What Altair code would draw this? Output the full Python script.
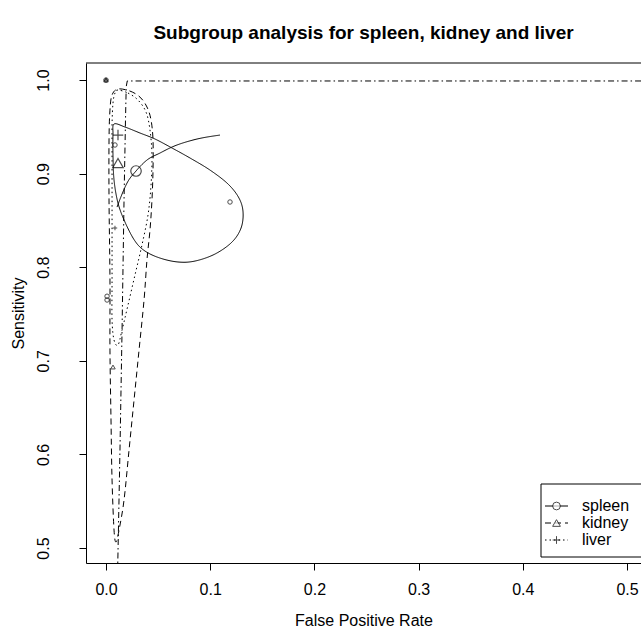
import altair as alt
import pandas as pd

FONT = "Liberation Sans"

# ---- data (FPR, sensitivity) ----
spleen_region_fpr = [0.0077, 0.0182, 0.0326, 0.0470, 0.0633, 0.0806, 0.0998, 0.1171, 0.1276, 0.1315,
                     0.1296, 0.1209, 0.1046, 0.0854, 0.0691, 0.0518, 0.0374, 0.0278, 0.0182, 0.0115,
                     0.0077, 0.0067, 0.0067]
spleen_region_sens = [0.9530, 0.9498, 0.9434, 0.9370, 0.9274, 0.9167, 0.9038, 0.8889, 0.8739, 0.8590,
                      0.8419, 0.8269, 0.8141, 0.8066, 0.8056, 0.8098, 0.8173, 0.8280, 0.8483, 0.8686,
                      0.8932, 0.9199, 0.9412]

kidney_region_fpr = [0.0115, 0.0230, 0.0326, 0.0393, 0.0432, 0.0451, 0.0451, 0.0441, 0.0422, 0.0393,
                     0.0365, 0.0317, 0.0269, 0.0221, 0.0173, 0.0125, 0.0096, 0.0077, 0.0058, 0.0048,
                     0.0038, 0.0038, 0.0029, 0.0029, 0.0038, 0.0058]
kidney_region_sens = [0.9904, 0.9882, 0.9818, 0.9712, 0.9573, 0.9359, 0.9038, 0.8718, 0.8397, 0.8077,
                      0.7650, 0.7115, 0.6581, 0.6047, 0.5513, 0.5192, 0.5064, 0.5192, 0.5726, 0.6368,
                      0.7115, 0.7863, 0.8718, 0.9359, 0.9679, 0.9840]

liver_region_fpr = [0.0115, 0.0211, 0.0307, 0.0384, 0.0422, 0.0441, 0.0432, 0.0403, 0.0345, 0.0278,
                    0.0211, 0.0154, 0.0115, 0.0077, 0.0058, 0.0058, 0.0058, 0.0058, 0.0058, 0.0058,
                    0.0067, 0.0086]
liver_region_sens = [0.9893, 0.9861, 0.9786, 0.9658, 0.9466, 0.9199, 0.8878, 0.8558, 0.8237, 0.7917,
                     0.7596, 0.7329, 0.7169, 0.7222, 0.7436, 0.7863, 0.8291, 0.8718, 0.9145, 0.9519,
                     0.9754, 0.9861]

spleen_sroc_fpr = [0.0106, 0.0154, 0.0202, 0.0288, 0.0393, 0.0518, 0.0633, 0.0835, 0.1094]
spleen_sroc_sens = [0.8643, 0.8782, 0.8900, 0.9028, 0.9145, 0.9220, 0.9284, 0.9359, 0.9412]

other_sroc_fpr = [0.0113, 0.0134, 0.0154, 0.0173, 0.0187, 0.0194, 0.0204, 0.5200]
other_sroc_sens = [0.4840, 0.6047, 0.7329, 0.8718, 0.9573, 0.9930, 0.9990, 0.9990]

groups = ["spleen", "kidney", "liver"]
summary_fpr = [0.0288, 0.0115, 0.0115]
summary_sens = [0.9028, 0.9113, 0.9412]

study_group = ["spleen", "spleen", "spleen", "spleen", "spleen", "kidney", "kidney", "liver", "liver"]
study_fpr = [0.0086, 0.1190, 0.0010, 0.0010, 0.0000, 0.0067, 0.0000, 0.0086, 0.0000]
study_sens = [0.9306, 0.8697, 0.7690, 0.7650, 1.0000, 0.6934, 1.0000, 0.8419, 1.0000]

# ---- tables ----
def path_rows(name, style, fprs, senss):
    return [dict(path=name, style=style, order=i, fpr=f, sens=s)
            for i, (f, s) in enumerate(zip(fprs, senss))]

regions_df = pd.DataFrame(
    path_rows("spleen", "solid", spleen_region_fpr, spleen_region_sens)
    + path_rows("kidney", "dashed", kidney_region_fpr, kidney_region_sens)
    + path_rows("liver", "dotted", liver_region_fpr, liver_region_sens)
)
sroc1_df = pd.DataFrame(path_rows("spleen_sroc", "solid", spleen_sroc_fpr, spleen_sroc_sens))
sroc2_df = pd.DataFrame(path_rows("other_sroc", "dotdash", other_sroc_fpr, other_sroc_sens))
summary_df = pd.DataFrame(dict(group=groups, fpr=summary_fpr, sens=summary_sens))
study_df = pd.DataFrame(dict(group=study_group, fpr=study_fpr, sens=study_sens))

PLUS = "M-1,0H1M0,-1V1"
dash_scale = alt.Scale(domain=["solid", "dashed", "dotted", "dotdash"],
                       range=[[1, 0], [6, 4], [1.5, 3], [1.5, 3, 6, 3]])
shape_scale = alt.Scale(domain=groups, range=["circle", "triangle-up", PLUS])

W, H = 555, 500
x_enc = alt.X("fpr:Q", scale=alt.Scale(domain=[-0.0192, 0.5134], nice=False, zero=False),
              axis=alt.Axis(values=[0, 0.1, 0.2, 0.3, 0.4, 0.5], format=".1f", title="False Positive Rate",
                            grid=False, tickSize=7, labelPadding=11, titleY=57, titleBaseline="middle",
                            titleX=W / 2))
y_enc = alt.Y("sens:Q", scale=alt.Scale(domain=[0.484, 1.0182], nice=False, zero=False),
              axis=alt.Axis(values=[0.5, 0.6, 0.7, 0.8, 0.9, 1.0], format=".1f", title="Sensitivity",
                            grid=False, tickSize=7, labelAngle=270, labelAlign="center",
                            labelBaseline="middle", labelPadding=36, titleAngle=270,
                            titleX=-68, titleY=H / 2, titleBaseline="middle"))

regions = alt.Chart(regions_df).mark_line(interpolate="cardinal-closed", color="black",
                                          strokeWidth=1, clip=True).encode(
    x=x_enc, y=y_enc, detail="path:N", order="order:Q",
    strokeDash=alt.StrokeDash("style:N", scale=dash_scale, legend=None))

sroc1 = alt.Chart(sroc1_df).mark_line(interpolate="monotone", color="black", strokeWidth=1,
                                      clip=True).encode(
    x="fpr:Q", y="sens:Q", order="order:Q",
    strokeDash=alt.StrokeDash("style:N", scale=dash_scale, legend=None))

sroc2 = alt.Chart(sroc2_df).mark_line(interpolate="linear", color="black", strokeWidth=1,
                                      clip=True).encode(
    x="fpr:Q", y="sens:Q", order="order:Q",
    strokeDash=alt.StrokeDash("style:N", scale=dash_scale, legend=None))

summary = alt.Chart(summary_df).mark_point(filled=False, color="black", strokeWidth=1.2).encode(
    x="fpr:Q", y="sens:Q",
    shape=alt.Shape("group:N", scale=shape_scale, legend=None),
    size=alt.value(110))

study = alt.Chart(study_df).mark_point(filled=False, color="black", strokeWidth=1).encode(
    x="fpr:Q", y="sens:Q",
    shape=alt.Shape("group:N", scale=shape_scale, legend=None),
    size=alt.value(20))

one = alt.Data(values=[{"k": 1}])
top_border = alt.Chart(one).mark_rule(color="black", strokeWidth=1).encode(
    x=alt.value(0), x2=alt.value(W + 5), y=alt.value(0))

# legend (manual, R style)
LX, LY, ROW = 455, 421, 17
legend_layers = [
    alt.Chart(one).mark_rect(fill="white", stroke="black", strokeWidth=1).encode(
        x=alt.value(LX), x2=alt.value(LX + 200), y=alt.value(LY), y2=alt.value(LY + 73))
]
shapes = ["circle", "triangle-up", PLUS]
dashes = [[1, 0], [6, 4], [1.5, 3]]
for i, g in enumerate(groups):
    yy = LY + 22 + i * ROW
    legend_layers.append(alt.Chart(one).mark_rule(color="black", strokeWidth=1,
                                                  strokeDash=dashes[i]).encode(
        x=alt.value(LX + 4), x2=alt.value(LX + 27), y=alt.value(yy)))
    legend_layers.append(alt.Chart(one).mark_point(filled=False, color="black", strokeWidth=1,
                                                   shape=shapes[i], size=60, fill="white").encode(
        x=alt.value(LX + 15.5), y=alt.value(yy)))
    legend_layers.append(alt.Chart(one).mark_text(align="left", baseline="middle", font=FONT,
                                                  fontSize=16, color="black", text=g).encode(
        x=alt.value(LX + 41), y=alt.value(yy)))

chart = alt.layer(regions, sroc1, sroc2, summary, study, top_border, *legend_layers).properties(
    width=W, height=H,
    autosize=alt.AutoSizeParams(type="none"),
    padding={"left": 86, "top": 63, "right": 0, "bottom": 77},
    background="white",
    title=alt.TitleParams("Subgroup analysis for spleen, kidney and liver", font=FONT, fontSize=19,
                          fontWeight="bold", anchor="middle", frame="group", offset=20, color="black"),
).configure_view(stroke=None).configure_axis(
    labelFont=FONT, titleFont=FONT, labelFontSize=16, titleFontSize=16, titleFontWeight="normal",
    labelColor="black", titleColor="black", domainColor="black", tickColor="black",
    domainWidth=1, tickWidth=1,
)

chart.save("out.html", embed_options={"renderer": "svg", "actions": False})
